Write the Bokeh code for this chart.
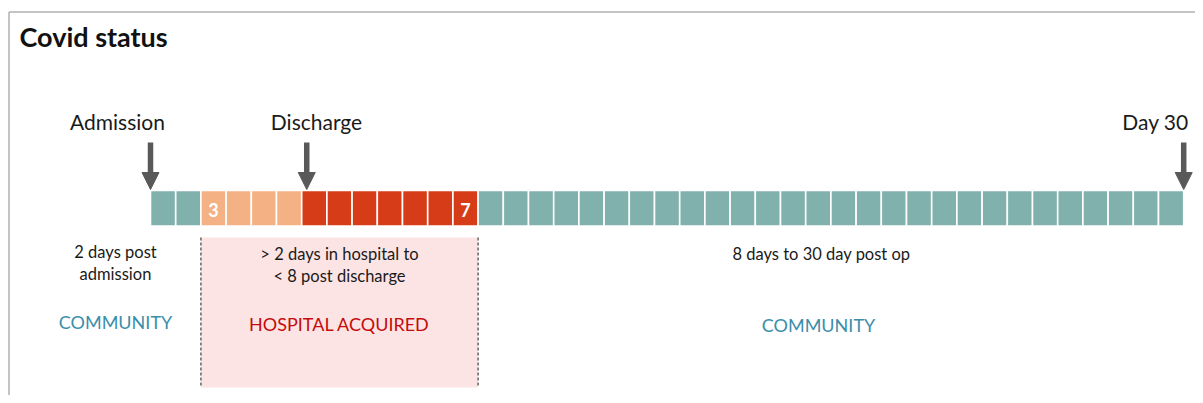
from bokeh.plotting import figure
from bokeh.models import Range1d, Arrow, NormalHead
from bokeh.core.properties import value
from bokeh.embed import file_html
from bokeh.resources import INLINE

# ---------------- data ----------------
segment_names = ["community_pre", "hospital_in", "hospital_post", "community_post"]
segment_counts = [2, 4, 7, 28]
segment_colors = ["#80b1ad", "#f4b183", "#d63c17", "#80b1ad"]

cell_numbers = {2: "3", 12: "7"}          # cell index -> number printed in it

event_labels = ["Admission", "Discharge", "Day 30"]
event_days = [0, 6.2, 41]

below_notes = ["2 days post\nadmission", "> 2 days in hospital to\n< 8 post discharge",
               "8 days to 30 day post op"]
zone_labels = ["COMMUNITY", "HOSPITAL ACQUIRED", "COMMUNITY"]
zone_colors = ["#3b8eaa", "#c40a0a", "#3b8eaa"]

title = "Covid status"

# ---------------- layout ----------------
W, H = 1195, 395
CELL_PX = 25.2
X0_PX = 150.0
x_start = -X0_PX / CELL_PX
x_end = x_start + W / CELL_PX
FONT = value("Lato")

def px2d(px):
    return (px - X0_PX) / CELL_PX

p = figure(width=W, height=H, x_range=Range1d(x_start, x_end), y_range=Range1d(H, 0),
           output_backend="svg", toolbar_location=None, min_border=0,
           x_axis_location=None, y_axis_location=None, tools="")
p.grid.visible = False
p.outline_line_color = None
p.background_fill_color = "white"
p.border_fill_color = "white"

# frame
xl = px2d(8.5)
p.segment(x0=[xl, xl], y0=[11.5, 11.5], x1=[xl, x_end], y1=[H, 11.5],
          line_color="#b0b0b0", line_width=1.5)

# title
p.text(x=[px2d(19)], y=[36], text=[title], text_font=FONT, text_font_style="bold",
       text_font_size="27px", text_align="left", text_baseline="middle", text_color="#111111")

# cells
lefts, colors = [], []
i = 0
for n, c in zip(segment_counts, segment_colors):
    for _ in range(n):
        lefts.append(i)
        colors.append(c)
        i += 1
rights = [l + 1 for l in lefts]
p.quad(left=lefts, right=rights, top=[190] * len(lefts), bottom=[225.5] * len(lefts),
       fill_color=colors, line_color="white", line_width=1.6)

# numbers in cells
p.text(x=[k + 0.5 for k in cell_numbers], y=[209] * len(cell_numbers),
       text=list(cell_numbers.values()), text_font=FONT, text_font_style="bold",
       text_font_size="18px", text_align="center", text_baseline="middle", text_color="white")

# hospital-acquired zone
h_start = segment_counts[0]
h_end = segment_counts[0] + segment_counts[1] + segment_counts[2]
p.quad(left=[h_start], right=[h_end], top=[237], bottom=[387],
       fill_color="#fde4e4", line_color=None)
p.segment(x0=[h_start, h_end], y0=[237, 237], x1=[h_start, h_end], y1=[387, 387],
          line_color="#666666", line_width=1.5, line_dash="3 2")

# event arrows
for d in event_days:
    p.add_layout(Arrow(end=NormalHead(size=17, fill_color="#595959", line_color="#595959", line_width=1),
                       x_start=d, y_start=142, x_end=d, y_end=189,
                       line_color="#595959", line_width=5.5))

label_x = [px2d(117), px2d(316), px2d(1155)]
p.text(x=label_x, y=[121] * 3, text=event_labels, text_font=FONT, text_font_size="21px",
       text_align="center", text_baseline="middle", text_color="#1a1a1a")

# notes below
note_x = [px2d(115), (h_start + h_end) / 2, px2d(821)]
note_y0 = [251, 253, 253]
for x, y0, t in zip(note_x, note_y0, below_notes):
    lines = t.split("\n")
    p.text(x=[x] * len(lines), y=[y0 + 22 * k for k in range(len(lines))], text=lines,
           text_font=FONT, text_font_size="16.5px", text_align="center",
           text_baseline="middle", text_color="#1a1a1a")

zone_x = [px2d(115), (h_start + h_end) / 2, px2d(818)]
p.text(x=zone_x, y=[321, 323, 324], text=zone_labels, text_font=FONT,
       text_font_size="18px", text_align="center", text_baseline="middle",
       text_color=zone_colors)

open("out.html", "w").write(file_html(p, INLINE))
